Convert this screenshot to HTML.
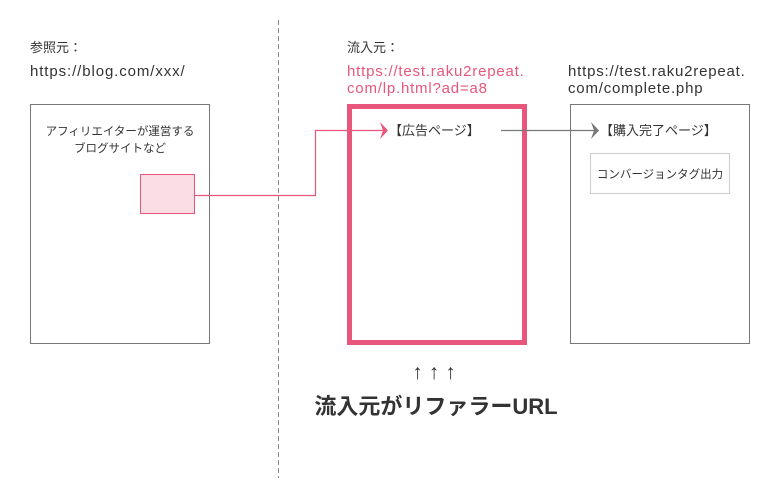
<!DOCTYPE html>
<html><head><meta charset="utf-8"><style>
html,body{margin:0;padding:0;background:#fff;}
svg{display:block;}
text{font-family:"Liberation Sans","Noto Sans CJK JP",sans-serif;fill:#333;}
</style></head><body>
<svg width="780" height="500" viewBox="0 0 780 500" xmlns="http://www.w3.org/2000/svg">
<line x1="278.5" y1="20" x2="278.5" y2="478" stroke="#888" stroke-width="1" stroke-dasharray="5,3"/>
<text x="30" y="52" font-size="13">参照元：</text>
<text x="30" y="76" font-size="15" letter-spacing="0.9">https://blog.com/xxx/</text>
<text x="347" y="52" font-size="13">流入元：</text>
<text x="347" y="76" font-size="15" letter-spacing="0.8" style="fill:#e8567c">https://test.raku2repeat.</text>
<text x="347" y="93" font-size="15" letter-spacing="0.8" style="fill:#e8567c">com/lp.html?ad=a8</text>
<text x="568" y="76" font-size="15" letter-spacing="0.8">https://test.raku2repeat.</text>
<text x="568" y="93" font-size="15" letter-spacing="0.8">com/complete.php</text>
<rect x="30.5" y="104.5" width="179" height="239" fill="none" stroke="#777"/>
<text x="120" y="135" font-size="11.5" text-anchor="middle">アフィリエイターが運営する</text>
<text x="120" y="152" font-size="11.5" text-anchor="middle">ブログサイトなど</text>
<rect x="140.5" y="174.5" width="54" height="39" fill="#fadde5" stroke="#e8567c"/>
<polyline points="194.5,195.5 315.5,195.5 315.5,130.5 385,130.5" fill="none" stroke="#e8567c" stroke-width="1.2"/>
<path d="M380,122 L388,130.5 L380,139 L383,130.5 Z" fill="#e8567c"/>
<rect x="349.5" y="106.5" width="175" height="236" fill="none" stroke="#e8567c" stroke-width="5"/>
<text x="389" y="135" font-size="13">【広告ページ】</text>
<line x1="501" y1="130.5" x2="596" y2="130.5" stroke="#777" stroke-width="1.2"/>
<path d="M591,122 L599,130.5 L591,139 L594,130.5 Z" fill="#777"/>
<rect x="570.5" y="104.5" width="179" height="239" fill="none" stroke="#777"/>
<text x="600" y="135" font-size="13">【購入完了ページ】</text>
<rect x="590.5" y="153.5" width="139" height="40" fill="none" stroke="#ccc"/>
<text x="660" y="178" font-size="11.5" text-anchor="middle">コンバージョンタグ出力</text>
<text x="437" y="379" font-size="21" text-anchor="middle" letter-spacing="6">↑↑↑</text>
<text x="436" y="414" font-size="22" font-weight="bold" text-anchor="middle">流入元がリファラーURL</text>
</svg>
</body></html>
